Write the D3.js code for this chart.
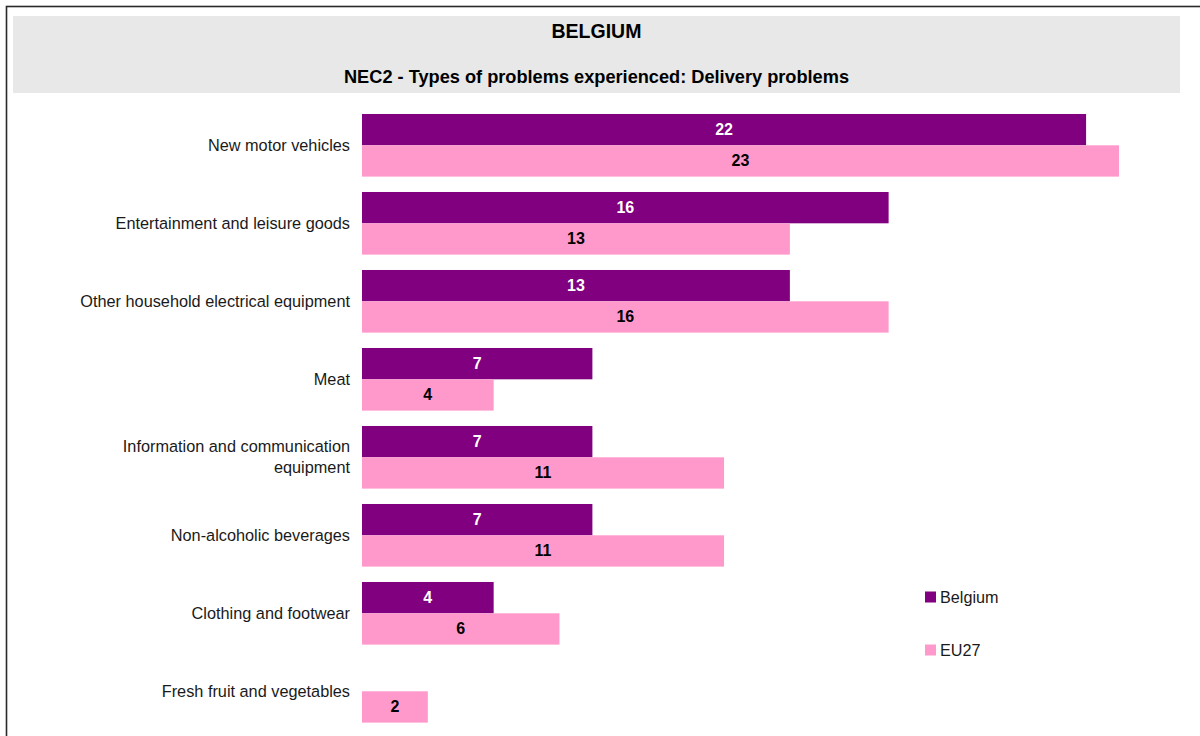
<!DOCTYPE html>
<html>
<head>
<meta charset="utf-8">
<script src="https://cdn.jsdelivr.net/npm/d3@7"></script>
<style>
  html, body { margin: 0; padding: 0; background: #fff; }
  svg { display: block; font-family: "Liberation Sans", Arial, sans-serif; }
</style>
</head>
<body>
<svg id="chart" width="1200" height="736"></svg>
<script>
// Delivery problems by product category, Belgium vs EU27 (%)
const categories = [
  "New motor vehicles",
  "Entertainment and leisure goods",
  "Other household electrical equipment",
  "Meat",
  "Information and communication equipment",
  "Non-alcoholic beverages",
  "Clothing and footwear",
  "Fresh fruit and vegetables"
];
const seriesNames = ["Belgium", "EU27"];
const belgiumValues = [22, 16, 13, 7, 7, 7, 4, null];
const eu27Values = [23, 13, 16, 4, 11, 11, 6, 2];
const titleText = "BELGIUM";
const subtitleText = "NEC2 - Types of problems experienced: Delivery problems";

const colors = { Belgium: "#800080", EU27: "#FF99CC" };
const labelColors = { Belgium: "#ffffff", EU27: "#000000" };

const rows = categories.map((c, i) => ({
  category: c,
  values: [
    { series: "Belgium", value: belgiumValues[i] },
    { series: "EU27", value: eu27Values[i] }
  ]
}));

const svg = d3.select("#chart");

// outer frame
svg.append("rect")
  .attr("x", 6.5).attr("y", 6.5)
  .attr("width", 1300).attr("height", 800)
  .attr("fill", "none")
  .attr("stroke", "#2a2a2a")
  .attr("stroke-width", 1.6);

// header panel
svg.append("rect")
  .attr("x", 13).attr("y", 16)
  .attr("width", 1167).attr("height", 77)
  .attr("fill", "#e8e8e8");

svg.append("text")
  .attr("x", 596.5).attr("y", 38)
  .attr("text-anchor", "middle")
  .attr("font-size", 19.5).attr("font-weight", "bold")
  .attr("fill", "#000")
  .text(titleText);

svg.append("text")
  .attr("x", 596.5).attr("y", 82.5)
  .attr("text-anchor", "middle")
  .attr("font-size", 18.2).attr("font-weight", "bold")
  .attr("fill", "#000")
  .text(subtitleText);

// scales
const x = d3.scaleLinear().domain([0, 23]).range([362, 1119]);
const y0 = d3.scaleBand()
  .domain(categories)
  .range([106.3, 106.3 + 78 * categories.length])
  .paddingInner(0.197)
  .paddingOuter(0.0985);
const y1 = d3.scaleBand()
  .domain(seriesNames)
  .range([0, y0.bandwidth()]);

// category axis labels (right-aligned, wrapped)
const wrapMap = {
  "Information and communication equipment": ["Information and communication", "equipment"]
};
const catG = svg.append("g");
rows.forEach(r => {
  const lines = wrapMap[r.category] || [r.category];
  const cy = y0(r.category) + y0.bandwidth() / 2;
  const lh = 21;
  const t = catG.append("text")
    .attr("text-anchor", "end")
    .attr("font-size", 16.3)
    .attr("fill", "#1a1a1a");
  lines.forEach((ln, k) => {
    t.append("tspan")
      .attr("x", 350)
      .attr("y", cy + (k - (lines.length - 1) / 2) * lh + 5.5)
      .text(ln);
  });
});

// bars
const groups = svg.append("g").selectAll("g")
  .data(rows)
  .join("g")
  .attr("transform", d => `translate(0,${y0(d.category)})`);

const cells = groups.selectAll("g")
  .data(d => d.values.filter(v => v.value != null))
  .join("g");

cells.append("rect")
  .attr("x", x(0))
  .attr("y", d => y1(d.series))
  .attr("width", d => x(d.value) - x(0))
  .attr("height", y1.bandwidth())
  .attr("fill", d => colors[d.series]);

cells.append("text")
  .attr("x", d => (x(0) + x(d.value)) / 2)
  .attr("y", d => y1(d.series) + y1.bandwidth() / 2 + 5.5)
  .attr("text-anchor", "middle")
  .attr("font-size", 16).attr("font-weight", "bold")
  .attr("fill", d => labelColors[d.series])
  .text(d => d.value);

// legend
const legend = svg.append("g");
seriesNames.forEach((s, i) => {
  const ly = 597 + i * 53;
  legend.append("rect")
    .attr("x", 925).attr("y", ly - 5.5)
    .attr("width", 11).attr("height", 11)
    .attr("fill", colors[s]);
  legend.append("text")
    .attr("x", 940).attr("y", ly + 5.5)
    .attr("font-size", 16.2)
    .attr("fill", "#1a1a1a")
    .text(s);
});
</script>
</body>
</html>
